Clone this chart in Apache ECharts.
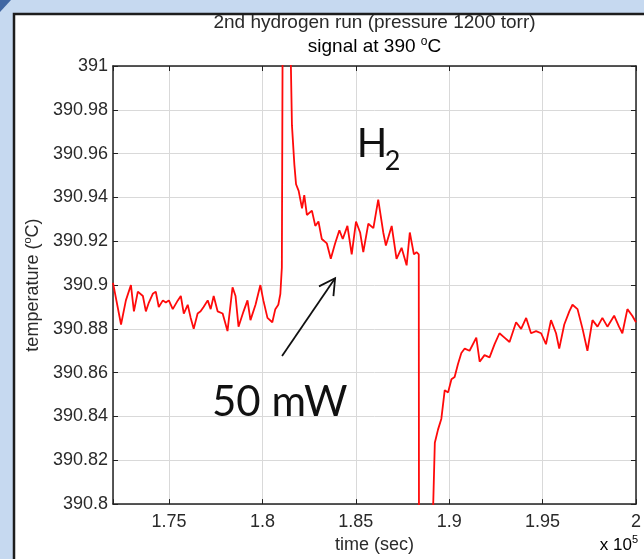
<!DOCTYPE html>
<html>
<head>
<meta charset="utf-8">
<title>2nd hydrogen run</title>
<script src="https://cdn.jsdelivr.net/npm/echarts@6/dist/echarts.min.js"></script>
<style>
    html, body { margin: 0; padding: 0; }
    #main { width: 644px; height: 559px; }
</style>
</head>
<body>
<div id="main"></div>
<script>
// time axis is in units of 1e5 sec (the "x 10^5" under the axis)
var times = [
    1.7200, 1.7243, 1.7269, 1.7296, 1.7312, 1.7333, 1.7360, 1.7376, 1.7392, 1.7413,
    1.7429, 1.7445, 1.7467, 1.7483, 1.7499, 1.7520, 1.7547, 1.7563, 1.7579, 1.7600,
    1.7616, 1.7632, 1.7653, 1.7669, 1.7685, 1.7707, 1.7723, 1.7739, 1.7760, 1.7787,
    1.7813, 1.7840, 1.7856, 1.7872, 1.7899, 1.7920, 1.7936, 1.7963, 1.7989, 1.8005,
    1.8027, 1.8053, 1.8069, 1.8085, 1.8096, 1.8104,
    // heater on (spike goes off the top)
    1.8110, 1.8142, 1.8158, 1.8171, 1.8180, 1.8194, 1.8212, 1.8224, 1.8238, 1.8265,
    1.8283, 1.8300, 1.8318, 1.8345, 1.8366, 1.8389, 1.8412, 1.8430, 1.8455, 1.8478,
    1.8501, 1.8523, 1.8540, 1.8567, 1.8594, 1.8620, 1.8647, 1.8661, 1.8692, 1.8718,
    1.8745, 1.8772, 1.8789, 1.8811, 1.8825, 1.8837,
    // heater off (dip goes off the bottom)
    1.8839, 1.8902,
    1.8923, 1.8940, 1.8958, 1.8976, 1.8994, 1.9012, 1.9029, 1.9047, 1.9065, 1.9083,
    1.9109, 1.9145, 1.9163, 1.9189, 1.9216, 1.9243, 1.9269, 1.9296, 1.9323, 1.9358,
    1.9385, 1.9412, 1.9438, 1.9465, 1.9492, 1.9518, 1.9545, 1.9572, 1.9589, 1.9616,
    1.9643, 1.9660, 1.9687, 1.9714, 1.9740, 1.9767, 1.9794, 1.9820, 1.9847, 1.9883,
    1.9909, 1.9927, 1.9954, 1.9980, 2.0000
]

var temps = [
    390.901, 390.882, 390.893, 390.900, 390.888, 390.897, 390.895, 390.888, 390.892, 390.896,
    390.897, 390.890, 390.893, 390.892, 390.893, 390.889, 390.893, 390.895, 390.887, 390.891,
    390.885, 390.880, 390.887, 390.888, 390.890, 390.893, 390.889, 390.895, 390.888, 390.887,
    390.879, 390.899, 390.895, 390.881, 390.888, 390.893, 390.884, 390.891, 390.900, 390.893,
    390.885, 390.883, 390.889, 390.891, 390.896, 390.908,
    391.060, 391.050, 390.973, 390.955, 390.946, 390.943, 390.935, 390.941, 390.932, 390.934,
    390.927, 390.929, 390.921, 390.919, 390.912, 390.919, 390.925, 390.921, 390.927, 390.914,
    390.929, 390.924, 390.915, 390.928, 390.926, 390.939, 390.924, 390.918, 390.927, 390.912,
    390.917, 390.909, 390.924, 390.914, 390.915, 390.914,
    390.700, 390.760,
    390.828, 390.834, 390.839, 390.852, 390.851, 390.857, 390.858, 390.864, 390.869, 390.871,
    390.870, 390.876, 390.865, 390.868, 390.867, 390.873, 390.878, 390.876, 390.874, 390.883,
    390.880, 390.885, 390.878, 390.879, 390.878, 390.873, 390.884, 390.878, 390.871, 390.882,
    390.888, 390.891, 390.889, 390.880, 390.870, 390.884, 390.881, 390.885, 390.881, 390.886,
    390.881, 390.878, 390.889, 390.886, 390.883
]

var xTicks = [1.75, 1.8, 1.85, 1.9, 1.95, 2]
var yTicks = [390.8, 390.82, 390.84, 390.86, 390.88, 390.9, 390.92, 390.94, 390.96, 390.98, 391]

var FONT = 'Liberation Sans'
var AXIS_COLOR = '#222'
var TEXT_COLOR = '#2a2a2a'

function numLabel(v) {
    return String(+v.toFixed(2))
}

// superscript "o" for the degree sign, like matlab's ^oC
function degRich(size) {
    return {
        n: { fontSize: size, fontFamily: FONT, color: TEXT_COLOR, lineHeight: size + 4 },
        s: { fontSize: Math.round(size * 0.62), fontFamily: FONT, color: TEXT_COLOR,
             lineHeight: Math.round(size * 0.62), verticalAlign: 'top' }
    }
}

var chart = echarts.init(document.getElementById('main'))

var data = times.map(function(t, i) {
    return [t, temps[i]]
})

var boxAxis = {
    axisLine: { show: true, onZero: false, lineStyle: { color: AXIS_COLOR, width: 1.5 } },
    axisTick: { show: true, inside: true, length: 5, lineStyle: { color: AXIS_COLOR, width: 1 } },
    axisLabel: { show: false },
    splitLine: { show: false }
}

var option = {
    animation: false,
    backgroundColor: '#c6d9f0',
    textStyle: { fontFamily: FONT },
    grid: { left: 113, right: 7, top: 66, bottom: 50 },
    xAxis: [{
        type: 'value',
        position: 'bottom',
        min: 1.72,
        max: xTicks[xTicks.length - 1],
        splitNumber: 5,
        name: 'time (sec)',
        nameLocation: 'middle',
        nameGap: 29,
        nameTextStyle: { fontSize: 18, color: TEXT_COLOR, fontFamily: FONT },
        axisLine: { onZero: false, lineStyle: { color: AXIS_COLOR, width: 1.5 } },
        axisTick: { inside: true, length: 5, lineStyle: { color: AXIS_COLOR } },
        axisLabel: {
            fontSize: 18, color: TEXT_COLOR, margin: 9,
            formatter: function(v) {
                // only the 0.05 steps get a label
                var ok = xTicks.some(function(t) { return Math.abs(t - v) < 1e-6 })
                return ok ? numLabel(v) : ''
            }
        },
        splitLine: { show: true, lineStyle: { color: '#d9d9d9', width: 1 } }
    }, Object.assign({
        type: 'value', position: 'top', min: 1.72, max: 2, splitNumber: 5
    }, boxAxis)],
    yAxis: [{
        type: 'value',
        position: 'left',
        min: yTicks[0],
        max: yTicks[yTicks.length - 1],
        interval: 0.02,
        name: '{n|temperature (}{s|o}{n|C)}',
        nameLocation: 'middle',
        nameRotate: 90,
        nameGap: 68,
        nameTextStyle: { rich: degRich(18) },
        axisLine: { onZero: false, lineStyle: { color: AXIS_COLOR, width: 1.5 } },
        axisTick: { inside: true, length: 5, lineStyle: { color: AXIS_COLOR } },
        axisLabel: { fontSize: 18, color: TEXT_COLOR, margin: 5, formatter: numLabel },
        splitLine: { show: true, lineStyle: { color: '#d9d9d9', width: 1 } }
    }, Object.assign({
        type: 'value', position: 'right', min: 390.8, max: 391, interval: 0.02
    }, boxAxis)],
    series: [{
        type: 'line',
        data: data,
        showSymbol: false,
        clip: true,
        lineStyle: { color: '#ff0a0a', width: 1.8 }
    }]
}

chart.setOption(option)

// annotations are anchored in data space, then drawn in pixels
function px(t, v) {
    return chart.convertToPixel({ xAxisIndex: 0, yAxisIndex: 0 }, [t, v])
}

function buildGraphic() {
    var tail = px(1.8105, 390.8676)
    var tip = px(1.8389, 390.9031)
    var ang = Math.atan2(tail[1] - tip[1], tail[0] - tip[0])
    var wing = 18
    var spread = 29 * Math.PI / 180
    var w1 = [tip[0] + wing * Math.cos(ang + spread), tip[1] + wing * Math.sin(ang + spread)]
    var w2 = [tip[0] + wing * Math.cos(ang - spread), tip[1] + wing * Math.sin(ang - spread)]

    var h = px(1.8505, 390.9643)
    var mw = px(1.7730, 390.8465)
    var midX = (px(1.72, 391)[0] + px(2, 391)[0]) / 2
    var right = px(2, 390.8)

    return [
        // white figure panel on the blue slide
        { type: 'rect', z: -10, shape: { x: 14, y: 14, width: 700, height: 700 },
          style: { fill: '#fff', stroke: '#1d1d1d', lineWidth: 2.5 } },
        { type: 'polygon', z: -9, shape: { points: [[0, 0], [11, 0], [0, 12]] },
          style: { fill: '#4167a3' } },
        // title
        { type: 'text', x: midX, y: 23, z: 10,
          style: { text: '2nd hydrogen run (pressure 1200 torr)', fill: TEXT_COLOR,
                   font: '19px "Liberation Sans"', align: 'center', verticalAlign: 'middle' } },
        { type: 'text', x: midX, y: 47, z: 10,
          style: { text: '{n|signal at 390 }{s|o}{n|C}', rich: degRich(19),
                   align: 'center', verticalAlign: 'middle' } },
        // x 10^5 multiplier
        { type: 'text', x: right[0] + 2, y: right[1] + 41, z: 10,
          style: { text: '{n|x 10}{s|5}', rich: degRich(17),
                   align: 'right', verticalAlign: 'middle' } },
        // H2 and 50 mW labels with the arrow
        { type: 'text', x: h[0], y: h[1], z: 10,
          style: { text: 'H', fill: '#111', font: '40px Lato', align: 'left', verticalAlign: 'middle' } },
        { type: 'text', x: h[0] + 28, y: h[1] + 17, z: 10,
          style: { text: '2', fill: '#111', font: '27px Lato', align: 'left', verticalAlign: 'middle' } },
        { type: 'text', x: mw[0], y: mw[1], z: 10,
          style: { text: '50 mW', fill: '#111', font: '42px Lato', align: 'left', verticalAlign: 'middle' } },
        { type: 'polyline', z: 10, shape: { points: [tail, tip] },
          style: { stroke: '#111', lineWidth: 1.8, fill: null } },
        { type: 'polyline', z: 10, shape: { points: [w1, tip, w2] },
          style: { stroke: '#111', lineWidth: 1.8, fill: null } }
    ]
}

chart.setOption({ graphic: buildGraphic() })
</script>
</body>
</html>
